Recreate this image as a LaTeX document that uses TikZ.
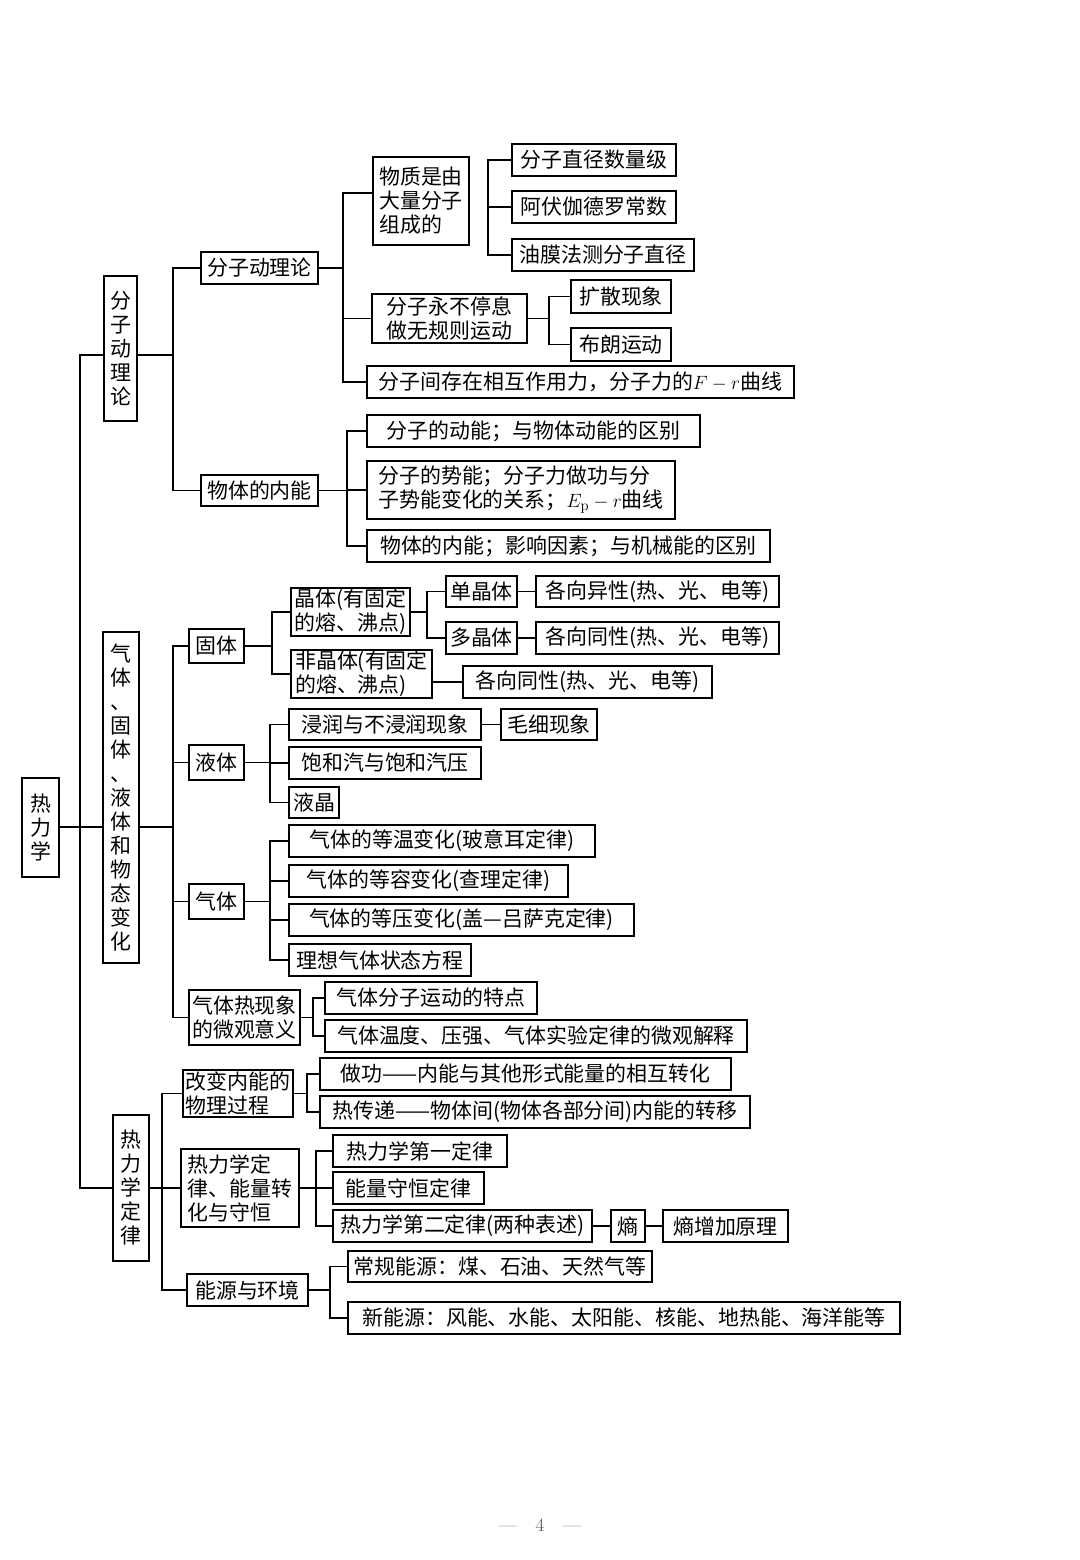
\documentclass[tikz,border=0pt]{standalone}
\usepackage{fontspec}
\newfontfamily\cjk{Noto Sans CJK SC}
\begin{document}
\begin{tikzpicture}[x=0.75pt,y=-0.75pt,
  box/.style={draw,line width=1.1pt,inner sep=0pt,align=center,
    font=\cjk\fontsize{15.7}{18}\selectfont},
  lbox/.style={box,align=left},
  ln/.style={line width=1.1pt}]
\newcommand{\bx}[6][]{\node[box,#1,minimum width={(#4-#2)*0.75pt},minimum height={(#5-#3)*0.75pt}] (#6) at ({(#2+#4)/2},{(#3+#5)/2})}
\newcommand{\branch}[3]{%
  \draw[ln] (#1) -- (#1 -| #2);
  \foreach \c in {#3} {\draw[ln] (#2 |- #1) |- (\c);}%
}
\fill[white] (0,0) rectangle (1080,1560);
\useasboundingbox (0,0) rectangle (1080,1560);
% trunk coordinates
\coordinate (t0) at (80,0);
\coordinate (tA) at (173,0);
\coordinate (tA1) at (343,0);
\coordinate (tA2) at (488,0);
\coordinate (tA3) at (549,0);
\coordinate (tB1) at (347,0);
\coordinate (tC) at (173,0);
\coordinate (tC1) at (272,0);
\coordinate (tC2) at (427,0);
\coordinate (tC3) at (270,0);
\coordinate (tC4) at (270,0);
\coordinate (tC5) at (313,0);
\coordinate (tD) at (162,0);
\coordinate (tD1) at (307,0);
\coordinate (tD2) at (316,0);
\coordinate (tD3) at (330,0);
\coordinate (yk1) at (0,355);
\coordinate (yk2) at (0,827);
\coordinate (ywz) at (0,193);
% level 0/1
\bx{22}{778}{59}{877}{root}{热\\力\\学};
\bx{104}{276}{137}{421}{k1}{分\\子\\动\\理\\论};
\bx{103}{632}{139}{963}{k2}{气\\体\\、\\固\\体\\、\\液\\体\\和\\物\\态\\变\\化};
\bx{113}{1115}{149}{1261}{k3}{热\\力\\学\\定\\律};
% 分子动理论
\bx{201}{252}{318}{284}{a}{分子动理论};
\bx{201}{475}{318}{506}{b}{物体的内能};
\bx[lbox]{373}{157}{469}{245}{wz}{物质是由\\大量分子\\组成的};
\bx{512}{144}{676}{176}{a11}{分子直径数量级};
\bx{512}{191}{676}{223}{a12}{阿伏伽德罗常数};
\bx{512}{239}{694}{271}{a13}{油膜法测分子直径};
\bx{372}{294}{527}{343}{yd}{分子永不停息\\做无规则运动};
\bx{571}{280}{671}{313}{yd1}{扩散现象};
\bx{571}{328}{671}{361}{yd2}{布朗运动};
\bx{367}{366}{794}{398}{fl}{分子间存在相互作用力，分子力的$F-r$曲线};
\bx{367}{415}{700}{447}{b1}{分子的动能；与物体动能的区别};
\bx[lbox]{367}{461}{675}{519}{b2}{分子的势能；分子力做功与分\\子势能变化的关系；$E_{\mathrm{p}}-r$曲线};
\bx{367}{530}{770}{562}{b3}{物体的内能；影响因素；与机械能的区别};
% 气体、固体、液体
\bx{189}{629}{244}{663}{c1}{固体};
\bx{189}{745}{244}{780}{c2}{液体};
\bx{189}{884}{244}{919}{c3}{气体};
\bx[lbox]{189}{990}{300}{1045}{c4}{气体热现象\\的微观意义};
\bx[lbox]{291}{588}{410}{636}{jt}{晶体(有固定\\的熔、沸点)};
\bx[lbox]{291}{650}{432}{698}{fjt}{非晶体(有固定\\的熔、沸点)};
\bx{446}{576}{517}{607}{dj}{单晶体};
\bx{446}{622}{517}{654}{duo}{多晶体};
\bx{536}{576}{779}{607}{gy}{各向异性(热、光、电等)};
\bx{536}{622}{779}{654}{gt1}{各向同性(热、光、电等)};
\bx{463}{666}{712}{698}{gt2}{各向同性(热、光、电等)};
\bx{289}{709}{481}{740}{l1}{浸润与不浸润现象};
\bx{501}{709}{597}{740}{mx}{毛细现象};
\bx{289}{747}{481}{779}{l2}{饱和汽与饱和汽压};
\bx{289}{787}{339}{818}{l3}{液晶};
\bx{289}{825}{595}{857}{g1}{气体的等温变化(玻意耳定律)};
\bx{289}{865}{568}{897}{g2}{气体的等容变化(查理定律)};
\bx{289}{904}{634}{936}{g3}{气体的等压变化(盖—吕萨克定律)};
\bx{289}{944}{471}{976}{g4}{理想气体状态方程};
\bx{325}{982}{537}{1014}{w1}{气体分子运动的特点};
\bx{325}{1020}{747}{1052}{w2}{气体温度、压强、气体实验定律的微观解释};
% 热力学定律
\bx[lbox]{183}{1070}{293}{1117}{d1}{改变内能的\\物理过程};
\bx[lbox]{181}{1149}{299}{1227}{d2}{热力学定\\律、能量转\\化与守恒};
\bx{187}{1274}{308}{1306}{d3}{能源与环境};
\bx{320}{1058}{731}{1090}{d11}{做功——内能与其他形式能量的相互转化};
\bx{320}{1096}{750}{1128}{d12}{热传递——物体间(物体各部分间)内能的转移};
\bx{333}{1135}{507}{1167}{d21}{热力学第一定律};
\bx{333}{1172}{484}{1204}{d22}{能量守恒定律};
\bx{333}{1210}{592}{1242}{d23}{热力学第二定律(两种表述)};
\bx{611}{1210}{645}{1242}{sh}{熵};
\bx{663}{1210}{788}{1242}{sh2}{熵增加原理};
\bx{348}{1251}{652}{1282}{d31}{常规能源：煤、石油、天然气等};
\bx{348}{1302}{900}{1334}{d32}{新能源：风能、水能、太阳能、核能、地热能、海洋能等};
% special anchor points
\coordinate (rootE) at (root.east |- yk2);
\coordinate (k1W) at (k1.west |- yk1);
\coordinate (k1E) at (k1.east |- yk1);
\coordinate (k2W) at (k2.west |- yk2);
\coordinate (k2E) at (k2.east |- yk2);
\coordinate (wzW) at (wz.west |- ywz);
\coordinate (fjtE) at (fjt.east |- gt2.west);
% connectors
\branch{rootE}{t0}{k1W,k2W,k3.west}
\branch{k1E}{tA}{a.west,b.west}
\branch{a.east}{tA1}{wzW,yd.west,fl.west}
\foreach \c in {a11.west,a13.west} {\draw[ln] (tA2 |- a12.west) |- (\c);}
\draw[ln] (tA2 |- a12.west) -- (a12.west);
\branch{yd.east}{tA3}{yd1.west,yd2.west}
\branch{b.east}{tB1}{b1.west,b2.west,b3.west}
\branch{k2E}{tC}{c1.west,c2.west,c3.west,c4.west}
\branch{c1.east}{tC1}{jt.west,fjt.west}
\branch{jt.east}{tC2}{dj.west,duo.west}
\branch{c2.east}{tC3}{l1.west,l2.west,l3.west}
\branch{c3.east}{tC4}{g1.west,g2.west,g3.west,g4.west}
\branch{c4.east}{tC5}{w1.west,w2.west}
\branch{k3.east}{tD}{d1.west,d2.west,d3.west}
\branch{d1.east}{tD1}{d11.west,d12.west}
\branch{d2.east}{tD2}{d21.west,d22.west,d23.west}
\branch{d3.east}{tD3}{d31.west,d32.west}
\draw[ln] (dj.east) -- (gy.west);
\draw[ln] (duo.east) -- (gt1.west);
\draw[ln] (fjtE) -- (gt2.west);
\draw[ln] (l1.east) -- (mx.west);
\draw[ln] (d23.east) -- (sh.west);
\draw[ln] (sh.east) -- (sh2.west);
% page number
\node[font=\fontsize{14}{16}\selectfont,text=black!60] (pg) at (540,1525) {—\quad 4\quad —};
\end{tikzpicture}
\end{document}
